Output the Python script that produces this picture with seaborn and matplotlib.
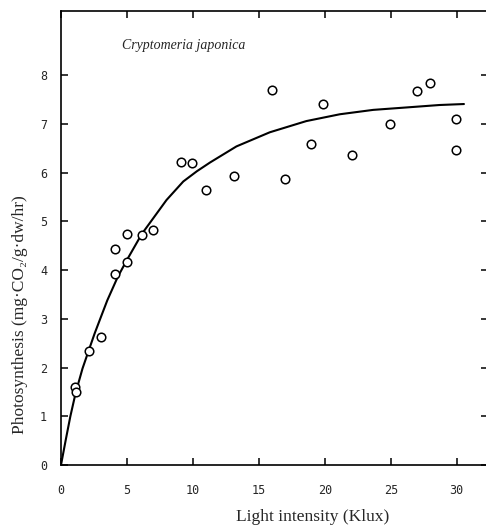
import numpy as np
import pandas as pd
import matplotlib
matplotlib.use("Agg")
import matplotlib.pyplot as plt
import seaborn as sns

# measured points (light intensity in Klux, photosynthesis)
light = [1.06, 1.11, 2.1, 3.03, 4.09, 4.09, 5.0, 5.03, 6.14, 7.0,
         9.07, 9.95, 11.0, 13.08, 15.96, 16.97, 18.99, 19.9, 22.05,
         24.92, 26.97, 27.95, 29.97, 29.92]
photo = [1.61, 1.5, 2.34, 2.63, 3.92, 4.44, 4.16, 4.74, 4.73, 4.83,
         6.23, 6.2, 5.64, 5.94, 7.69, 5.87, 6.59, 7.42, 6.36,
         7.0, 7.67, 7.84, 7.1, 6.46]

# fitted curve
curve_x = [0, 0.37, 0.71, 1.11, 1.63, 2.1, 2.55, 3.0, 3.51, 4.3, 4.98,
           6.12, 8.0, 9.27, 10.3, 11.3, 13.3, 15.83, 18.6, 21.14,
           23.67, 26.2, 28.7, 30.55]
curve_y = [0, 0.53, 1.0, 1.48, 1.98, 2.35, 2.7, 3.02, 3.38, 3.86, 4.2,
           4.74, 5.44, 5.82, 6.03, 6.21, 6.54, 6.83, 7.06, 7.2,
           7.29, 7.34, 7.39, 7.41]

x_ticks = [0, 5, 10, 15, 20, 25, 30]
y_ticks = [0, 1, 2, 3, 4, 5, 6, 7, 8]

sns.set_theme(style="ticks")
plt.rcParams['font.family'] = ['Liberation Serif', 'DejaVu Serif']

pts = pd.DataFrame({"light": light, "photo": photo})
fit = pd.DataFrame({"light": curve_x, "photo": curve_y})

fig = plt.figure(figsize=(4.86, 5.31), dpi=100)
# right frame edge sits just outside the picture, as in the scan
ax = fig.add_axes([61 / 486, 1 - 465 / 531, 427 / 486, 454.5 / 531])

sns.lineplot(data=fit, x="light", y="photo", color="black", linewidth=1.5,
             sort=True, estimator=None, ax=ax)
sns.scatterplot(data=pts, x="light", y="photo", s=38, facecolor="white",
                edgecolor="black", linewidth=1.1, zorder=3, ax=ax)

ax.set_xlim(0, 427 / 13.19)
ax.set_ylim(0, 9.33)
ax.set_xticks(x_ticks)
ax.set_yticks(y_ticks)
for sp in ax.spines.values():
    sp.set_linewidth(1.2)
    sp.set_color("black")

ax.tick_params(axis="both", direction="in", length=5, width=1.1,
               color="black", top=True, right=True)
ax.tick_params(axis="x", pad=14)
ax.tick_params(axis="y", pad=10)
for lab in ax.get_xticklabels() + ax.get_yticklabels():
    lab.set_family("DejaVu Sans Mono")
    lab.set_fontsize(8.5)

ax.set_xlabel("Light intensity (Klux)", fontsize=12.5)
ax.set_ylabel("Photosynthesis (mg\u00b7CO\u2082/g\u00b7dw/hr)", fontsize=12.5)
ax.xaxis.set_label_coords(0.59, -0.097)
ax.yaxis.set_label_coords(-0.078, 0.33)

ax.text(0.143, 0.924, "Cryptomeria japonica", transform=ax.transAxes,
        fontsize=10, style="italic", ha="left", va="center")

fig.savefig("out.png", dpi=100)
